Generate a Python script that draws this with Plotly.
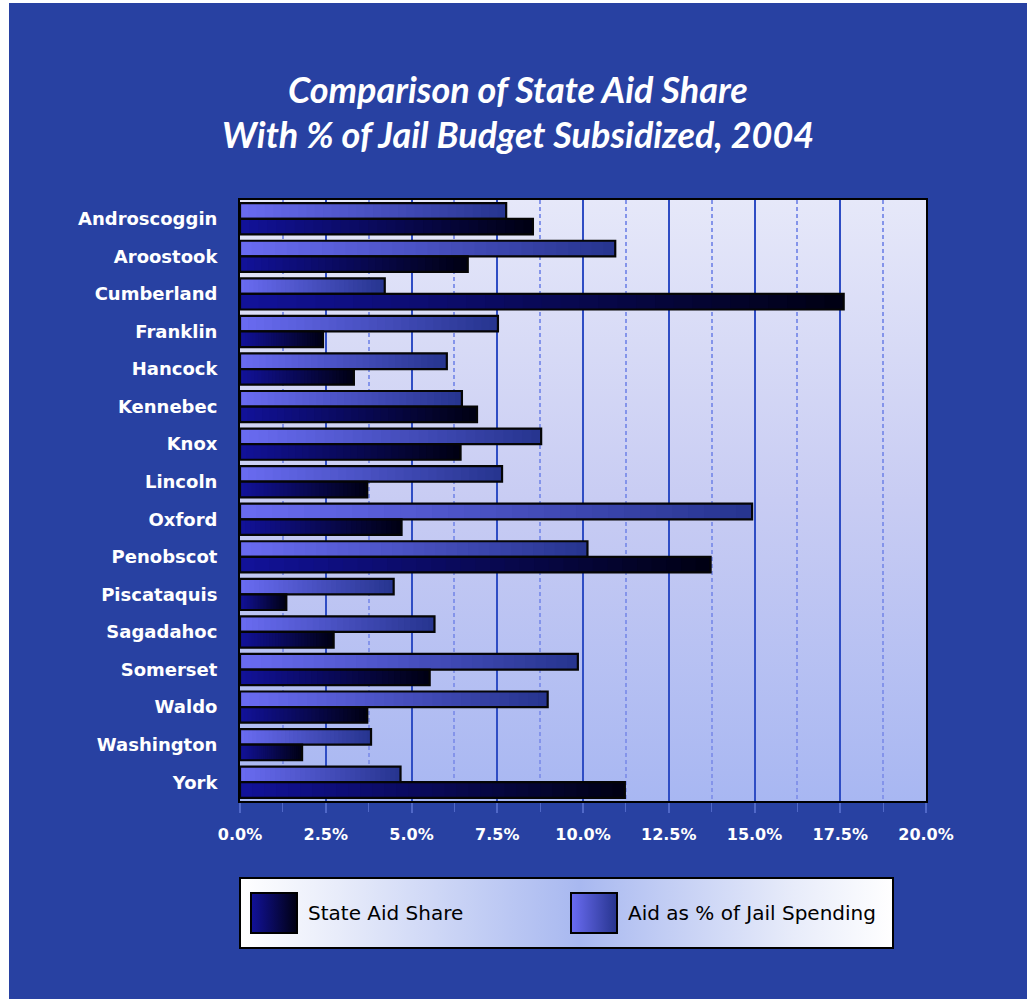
import base64
import plotly.graph_objects as go

# ---- data -------------------------------------------------------------
counties = [
    "Androscoggin", "Aroostook", "Cumberland", "Franklin", "Hancock",
    "Kennebec", "Knox", "Lincoln", "Oxford", "Penobscot", "Piscataquis",
    "Sagadahoc", "Somerset", "Waldo", "Washington", "York",
]
state_aid_share = [8.54, 6.64, 17.60, 2.42, 3.32, 6.91, 6.43, 3.71,
                   4.71, 13.72, 1.35, 2.73, 5.53, 3.71, 1.81, 11.22]
aid_pct_jail = [7.76, 10.94, 4.22, 7.52, 6.03, 6.47, 8.78, 7.64,
                14.93, 10.13, 4.48, 5.67, 9.85, 8.97, 3.82, 4.68]
x_ticks = [0, 2.5, 5, 7.5, 10, 12.5, 15, 17.5, 20]
title_lines = ["Comparison of State Aid Share",
               "With % of Jail Budget Subsidized, 2004"]
legend_labels = ["State Aid Share", "Aid as % of Jail Spending"]

# ---- page geometry ----------------------------------------------------
W, H = 1027, 999
L, R, T, B = 240, 926, 200, 801          # plot area in pixels
BG = "#2841A2"


def px(x):
    return (x - L) / (R - L)


def py(y):
    return (B - y) / (B - T)


def hex2rgb(h):
    h = h.lstrip("#")
    return tuple(int(h[i:i + 2], 16) for i in (0, 2, 4))


def mix(c0, c1, t):
    a, b = hex2rgb(c0), hex2rgb(c1)
    return "rgb(%d,%d,%d)" % tuple(round(a[i] + (b[i] - a[i]) * t) for i in range(3))


def gradient_uri(stops, horizontal=True):
    x2, y2 = ("1", "0") if horizontal else ("0", "1")
    stop_xml = "".join(
        f'<stop offset="{o}" stop-color="{c}"/>' for o, c in stops)
    svg = (
        '<svg xmlns="http://www.w3.org/2000/svg" width="100" height="100" '
        'viewBox="0 0 100 100" preserveAspectRatio="none">'
        f'<defs><linearGradient id="g" x1="0" y1="0" x2="{x2}" y2="{y2}">'
        f'{stop_xml}</linearGradient></defs>'
        '<rect width="100" height="100" fill="url(#g)"/></svg>'
    )
    return "data:image/svg+xml;base64," + base64.b64encode(svg.encode()).decode()


STATE_C = ("#12129A", "#000012")
AID_C = ("#6A6CF2", "#26348E")

fig = go.Figure()

# ---- gradient bars: overlapping segments, darker towards the bar end ---
N = 32
BAR_W = 0.415
series = [
    (legend_labels[1], aid_pct_jail, AID_C, -BAR_W),
    (legend_labels[0], state_aid_share, STATE_C, 0.0),
]
for name, vals, (c0, c1), off in series:
    for k in range(N):
        frac = k / N
        base = [v * frac for v in vals]
        length = [v - b for v, b in zip(vals, base)]
        fig.add_trace(go.Bar(
            y=counties, x=length, base=base, orientation="h",
            width=BAR_W, offset=off,
            marker=dict(color=mix(c0, c1, (k + 0.5) / N), line=dict(width=0)),
            showlegend=False, hoverinfo="skip",
        ))
    fig.add_trace(go.Bar(
        y=counties, x=vals, orientation="h", name=name,
        width=BAR_W, offset=off,
        marker=dict(color="rgba(0,0,0,0)", line=dict(color="#050505", width=2.2)),
        showlegend=False,
        hovertemplate="%{y}: %{x:.1f}%<extra>" + name + "</extra>",
    ))

# ---- background pieces ------------------------------------------------
images = [
    dict(source=gradient_uri([(0, "#E6E8F9"), (0.5, "#C8CCF3"), (1, "#A8B7F2")],
                             horizontal=False),
         xref="paper", yref="paper", x=0, y=1, sizex=1, sizey=1,
         xanchor="left", yanchor="top", sizing="stretch", layer="below"),
]

# legend box
LG = (240, 878, 893, 948)
images.append(dict(
    source=gradient_uri([(0, "#FFFFFF"), (0.15, "#E8ECFA"), (0.52, "#A8B8F0"),
                         (0.85, "#E8ECFA"), (1, "#FFFFFF")]),
    xref="paper", yref="paper", x=px(LG[0]), y=py(LG[1]),
    sizex=px(LG[2]) - px(LG[0]), sizey=py(LG[1]) - py(LG[3]),
    xanchor="left", yanchor="top", sizing="stretch", layer="above"))

shapes = [
    # thin white page edges on the left and top
    dict(type="rect", xref="paper", yref="paper", x0=px(-20), x1=px(9),
         y0=py(1100), y1=py(-20), fillcolor="white", line=dict(width=0),
         layer="below"),
    dict(type="rect", xref="paper", yref="paper", x0=px(-20), x1=px(1100),
         y0=py(3), y1=py(-20), fillcolor="white", line=dict(width=0),
         layer="below"),
    dict(type="rect", xref="paper", yref="paper", x0=px(LG[0]), x1=px(LG[2]),
         y0=py(LG[3]), y1=py(LG[1]), line=dict(color="#000000", width=2),
         fillcolor="rgba(0,0,0,0)", layer="above"),
]

annotations = []
swatches = [(251, STATE_C, legend_labels[0], 306),
            (571, AID_C, legend_labels[1], 626)]
for sx, (c0, c1), label, tx in swatches:
    images.append(dict(
        source=gradient_uri([(0, c0), (1, c1)]),
        xref="paper", yref="paper", x=px(sx), y=py(893),
        sizex=px(sx + 46) - px(sx), sizey=py(893) - py(933),
        xanchor="left", yanchor="top", sizing="stretch", layer="above"))
    shapes.append(dict(type="rect", xref="paper", yref="paper",
                       x0=px(sx), x1=px(sx + 46), y0=py(933), y1=py(893),
                       line=dict(color="#000000", width=2),
                       fillcolor="rgba(0,0,0,0)", layer="above"))
    annotations.append(dict(
        text=label, xref="paper", yref="paper", x=px(tx), y=py(913),
        xanchor="left", yanchor="middle", showarrow=False,
        font=dict(family="DejaVu Sans", size=20, color="#000000")))

# title lines
for line, yc in zip(title_lines, (89, 134)):
    annotations.append(dict(
        text=line, xref="paper", yref="paper", x=px(518), y=py(yc),
        xanchor="center", yanchor="middle", showarrow=False,
        font=dict(family="Lato", size=36, color="white",
                  weight="bold", style="italic")))

fig.update_layout(
    width=W, height=H,
    margin=dict(l=L, r=W - R, t=T, b=H - B, pad=0),
    paper_bgcolor=BG, plot_bgcolor="#C8CCF3",
    barmode="overlay",
    showlegend=False,
    images=images, shapes=shapes, annotations=annotations,
    xaxis=dict(
        range=[0, 20], tickvals=x_ticks,
        ticktext=[f"{v:.1f}%" for v in x_ticks],
        showgrid=True, gridcolor="#2F4DC4", gridwidth=2,
        minor=dict(dtick=1.25, tick0=0, showgrid=True, gridcolor="#8494EA",
                   griddash="4px,3px", gridwidth=2, ticks="outside",
                   ticklen=9, tickcolor="#5068C8", tickwidth=1),
        ticks="outside", ticklen=10, tickcolor="#5068C8", tickwidth=2,
        showline=True, linecolor="#000000", linewidth=2, mirror=True,
        zeroline=False, ticklabelstandoff=8,
        tickfont=dict(family="DejaVu Sans", size=16, color="white",
                      weight="bold"),
    ),
    yaxis=dict(
        type="category", categoryorder="array", categoryarray=counties,
        autorange="reversed", showgrid=False, ticks="",
        showline=True, linecolor="#000000", linewidth=2, mirror=True,
        ticklabelstandoff=17,
        tickfont=dict(family="DejaVu Sans", size=18, color="white",
                      weight="bold"),
    ),
)

fig.write_html("out.html")
